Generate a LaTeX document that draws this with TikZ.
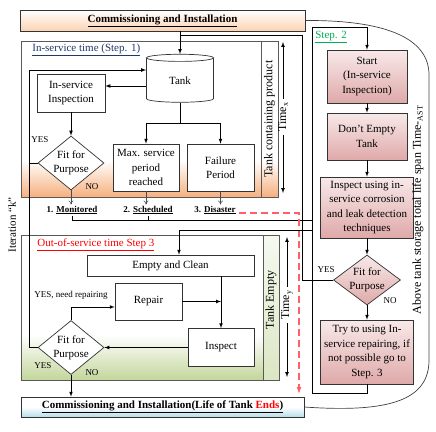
\documentclass[tikz,border=0pt]{standalone}
\usepackage{fontspec}
\setmainfont{Liberation Serif}
\usetikzlibrary{shapes.geometric, arrows.meta, calc}

\definecolor{peach}{HTML}{F6B07E}
\definecolor{peachlight}{HTML}{FBD3B3}
\definecolor{olive}{HTML}{C3D69B}
\definecolor{roselight}{HTML}{F8E9E9}
\definecolor{rose}{HTML}{DFA9A9}
\definecolor{skyline}{HTML}{B4DCEA}
\definecolor{dashred}{HTML}{FF5F66}
\definecolor{stepgreen}{HTML}{00B050}
\definecolor{stepblue}{HTML}{1F3864}

\begin{document}
\begin{tikzpicture}[x=1pt, y=-1pt, line width=0.7pt,
    box/.style={draw=black!80, fill=white, align=center, inner sep=0pt, font=\fontsize{11}{14.5}\selectfont},
    pinkbox/.style={box, top color=roselight, bottom color=rose},
    dia/.style={diamond, draw=black!80, fill=white, align=center, inner sep=-1.5pt, font=\fontsize{11}{14}\selectfont},
    panel/.style={draw=black!65, line width=1pt},
    side/.style={rotate=90, font=\fontsize{12}{14}\selectfont},
    small/.style={font=\fontsize{9}{10}\selectfont, inner sep=1pt},
    tag/.style={font=\bfseries\fontsize{9}{10}\selectfont, inner sep=1pt},
    title/.style={anchor=west, inner sep=0pt, font=\fontsize{11}{13}\selectfont},
    arr/.style={-latex},
    thinarr/.style={-{To[length=4pt,width=5pt]}, draw=black!70, line width=0.5pt}]
    \useasboundingbox (0,0) rectangle (436,431);

    % panels
    \shade[top color=white, bottom color=peach] (21,160) rectangle (278,197);
    \draw[panel] (21,41) rectangle (278,197);
    \draw[panel] (261,41) rectangle (278,197);
    \shade[top color=white, bottom color=olive] (21,335) rectangle (279,380);
    \shade[top color=olive!15, bottom color=olive!60] (263,235) rectangle (279,380);
    \draw[panel] (21,235) rectangle (279,380);
    \draw[panel] (263,235) rectangle (279,380);

    \node[title, text=stepblue] (t1) at (32,50) {\underline{In-service time (Step. 1)}};
    \node[title, text=stepgreen] (t2) at (315,37) {\underline{Step. 2}};
    \node[title, text=red] (t3) at (37,245) {\underline{Out-of-service time Step 3}};

    \node[box, font=\bfseries\fontsize{11}{13}\selectfont, top color=white, bottom color=peachlight,
          minimum width=285, minimum height=21] (top) at (162.5,20.5) {\underline{Commissioning and Installation}};
    \node[box, font=\bfseries\fontsize{11}{13}\selectfont, top color=white, bottom color=skyline, middle color=white,
          minimum width=283, minimum height=20] (bottom) at (162.5,407)
          {\underline{Commissioning and Installation(Life of Tank \textcolor{red}{Ends})}};

    % step 1
    \node[cylinder, shape border rotate=90, draw=black!80, fill=white, aspect=0.25,
          minimum width=67, minimum height=48, font=\fontsize{11}{13}\selectfont] (tank) at (180,81) {Tank};
    \node[box, minimum width=68, minimum height=38] (insp) at (71,93) {In-service\\Inspection};
    \node[dia, minimum width=66, minimum height=54, aspect=1.22] (fit1) at (71,163) {Fit for\\Purpose};
    \node[box, minimum width=66, minimum height=47] (maxp) at (146,167.5) {Max. service\\period\\reached};
    \node[box, minimum width=67, minimum height=47] (fail) at (220.5,167.5) {Failure\\Period};
    \node[tag] (mon) at (72,210) {1. \underline{Monitored}};
    \node[tag] (sch) at (148,210) {2. \underline{Scheduled}};
    \node[tag] (dis) at (215,210) {3. \underline{Disaster}};
    \node[small] (y1) at (40,140) {YES};
    \node[small] (n1) at (92,187) {NO};

    % step 3
    \node[box, minimum width=167, minimum height=21] (empty) at (170.5,265.5) {Empty and Clean};
    \node[box, minimum width=67, minimum height=37] (repair) at (148.5,301.5) {Repair};
    \node[box, minimum width=66, minimum height=38] (inspect) at (221,347.5) {Inspect};
    \node[dia, minimum width=66, minimum height=54, aspect=1.22] (fit2) at (71,347.5) {Fit for\\Purpose};
    \node[small] (yrep) at (71,295) {YES, need repairing};
    \node[small] (y2) at (43,366) {YES};
    \node[small] (n2) at (92,373) {NO};

    % step 2
    \node[pinkbox, minimum width=80, minimum height=53] (start) at (367,76.5) {Start\\(In-service\\Inspection)};
    \node[pinkbox, minimum width=80, minimum height=47] (keep) at (367,136.5) {Don't Empty\\Tank};
    \node[pinkbox, minimum width=93, minimum height=61] (scan) at (367,207.5)
          {Inspect using in-\\service corrosion\\and leak detection\\techniques};
    \node[dia, top color=roselight, bottom color=rose, minimum width=67, minimum height=50, aspect=1.34] (fit3)
          at (367,280) {Fit for\\Purpose};
    \node[pinkbox, minimum width=93, minimum height=64] (try) at (367,352)
          {Try to using In-\\service repairing, if\\not possible go to\\Step. 3};
    \node[small] (y3) at (326,270) {YES};
    \node[small] (n3) at (390,301) {NO};

    % side labels
    \node[side] (tcp) at (269.5,119) {Tank containing product};
    \node[side] (timex) at (283,117) {Time\textsubscript{x}};
    \node[side] (tempty) at (271,300) {Tank Empty};
    \node[side] (timey) at (287,305) {Time\textsubscript{y}};
    \node[side] (ast) at (418,210) {Above tank storage total life span Time-\textsubscript{AST}};
    \node[side, font=\fontsize{11}{13}\selectfont] (iter) at (12,225) {Iteration ``k''};

    \draw[arr] (timex.east) -- (283,42);
    \draw[arr] (timex.west) -- (283,193);
    \draw[arr] (timey.east) -- (287,237);
    \draw[arr] (timey.west) -- (287,377);

    % connectors
    \draw[arr] (tank.north |- top.south) -- (tank.north);
    \draw (fit3.west) -- (302,280) -- (302,35) -- (180,35);
    \draw[arr] (fit2.west) -- (29,347.5) -- (29,70) -- (tank.west |- 0,70);
    \draw (fit1.west) -- (29,163);
    \draw[arr] (tank.west |- 0,86) -- (insp.east |- 0,86);
    \draw[arr] (insp) -- (fit1);
    \draw[arr] (tank.south) -- (180,123) -| (maxp.north);
    \draw[arr] (180,123) -| (fail.north);
    \draw[thinarr] (fit1.south) -- (fit1.south |- mon.north);
    \draw[thinarr] (maxp.south) -- (maxp.south |- sch.north);
    \draw[thinarr] (fail.south) -- (fail.south |- dis.north);
    \draw (mon.south) -- (mon.south |- 0,220) -- (312,220);
    \draw (sch.south) -- (sch.south |- 0,220);
    \draw[dash pattern=on 7pt off 4pt, draw=dashred, line width=1.1pt, -{Latex[length=7pt,width=5pt,fill=dashred]}]
          (dis.east) ++(2,3) -- (299,213) -- (299,394);

    \draw[arr] (312,230) -- (179,230) -- (179,0 |- empty.north);
    \draw[arr] (empty.south -| inspect.north) -- (inspect.north);
    \draw[arr] (repair.east) -- (repair.east -| inspect.north);
    \draw[arr] (inspect.west) -- (fit2.east);
    \draw[arr] (fit2.north) -- (71,307) -- (repair.west |- 0,307);
    \draw[arr] (fit2.south) -- (fit2.south |- bottom.north);

    \draw[arr] (try.south) -- ++(0,9) -| (312,27) -| (start.north);
    \draw[arr] (start) -- (keep);
    \draw[arr] (keep) -- (scan);
    \draw[arr] (scan) -- (fit3);
    \draw[arr] (fit3) -- (try);

    \draw[black!75] (top.east) .. controls (390,20) and (429,40) .. (429,75) -- (429,360)
          .. controls (429,400) and (390,413) .. (bottom.east);
\end{tikzpicture}
\end{document}
